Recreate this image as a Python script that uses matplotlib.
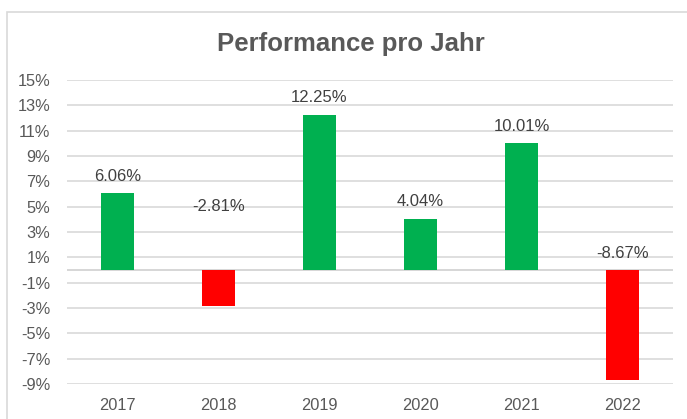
import matplotlib.pyplot as plt
from matplotlib.patches import Rectangle

years = ["2017", "2018", "2019", "2020", "2021", "2022"]
perf = [6.06, -2.81, 12.25, 4.04, 10.01, -8.67]
yticks = list(range(-9, 16, 2))

plt.rcParams['font.family'] = ['Liberation Sans', 'DejaVu Sans']

W, H = 687, 419
fig = plt.figure(figsize=(W / 100, H / 100), dpi=100)
ax = fig.add_axes([67 / W, (H - 384) / H, (673 - 67) / W, (384 - 80) / H])

colors = ['#00B050' if v >= 0 else '#FF0000' for v in perf]
x = range(len(years))
ax.bar(x, perf, width=0.33, color=colors, zorder=3)

# data labels sit above the bar top (or above zero for negative bars)
lift_px = {1: 64}
for i, v in enumerate(perf):
    base = max(v, 0)
    off = lift_px.get(i, 17) * 0.72
    ax.annotate(f"{v:.2f}%", (i, base), xytext=(0, off), textcoords='offset points',
                ha='center', va='center', fontsize=12, color='#404040', zorder=4)

ax.set_xlim(-0.5, len(years) - 0.5)
ax.set_ylim(-9, 15)
ax.set_yticks(yticks)
ax.set_yticklabels([f"{t}%" for t in yticks])
ax.set_xticks(list(x))
ax.set_xticklabels(years)
ax.tick_params(axis='both', length=0, labelsize=11.8, colors='#595959')
ax.tick_params(axis='y', pad=12)
ax.tick_params(axis='x', pad=10)
ax.grid(axis='y', color='#D9D9D9', linewidth=1.2, zorder=0)
ax.axhline(0, color='#D0D0D0', linewidth=1.2, zorder=1)
for s in ax.spines.values():
    s.set_visible(False)

fig.text(351 / W, 1 - 44 / H, "Performance pro Jahr", ha='center', va='center',
         fontsize=18.5, fontweight='bold', color='#595959')

fig.patches.append(Rectangle((7 / W, -0.1), 2, 1.1 - 12 / H, transform=fig.transFigure,
                             fill=False, edgecolor='#D9D9D9', linewidth=1.2))

fig.savefig("out.png", dpi=100)
